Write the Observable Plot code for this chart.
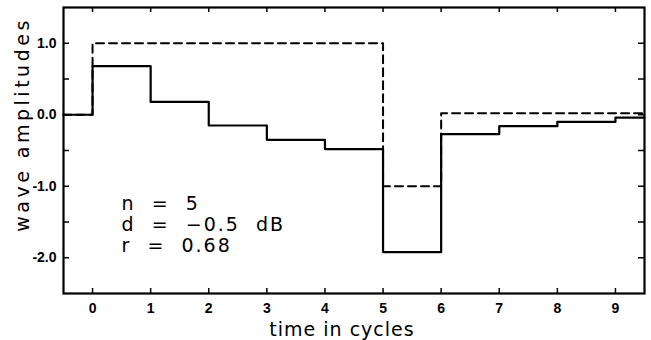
<!DOCTYPE html>
<html><head><meta charset="utf-8">
<script src="https://cdn.jsdelivr.net/npm/d3@7"></script>
<script src="https://cdn.jsdelivr.net/npm/@observablehq/plot@0.6"></script>
<style>body{margin:0;background:#fff} svg{display:block}</style>
</head><body><div id="chart"></div>
<script>
// ---- data ----
const times    = [-0.5, 0, 1, 2, 3, 4, 5, 6, 7, 8, 9, 9.5];
const response = [0, 0.68, 0.18, -0.15, -0.35, -0.48, -1.92, -0.27, -0.16, -0.10, -0.04, -0.04];
const input    = [0, 1, 1, 1, 1, 1, -1, 0.02, 0.02, 0.02, 0.02, 0.02];
const xTickValues = [0, 1, 2, 3, 4, 5, 6, 7, 8, 9];
const xTickLabels = ["0", "1", "2", "3", "4", "5", "6", "7", "8", "9"];
const yTickValues = [1, 0, -1, -2];
const yTickLabels = ["1.0", "0.0", "-1.0", "-2.0"];
const yMinorTicks = [1, 0.5, 0, -0.5, -1, -1.5, -2];
const xLabel = "time in cycles";
const yLabel = "wave amplitudes";
const annotation = ["n = 5", "d = −0.5 dB", "r = 0.68"];

// ---- layout ----
const W = 651, H = 340, mt = 7, mb = 47, ml = 63, mr = 7;
const iw = W - ml - mr, ih = H - mt - mb;

const solidRows = times.map((t, i) => ({t, v: response[i]}));
const dashRows = times.map((t, i) => ({t, v: input[i]}));
const annotText = annotation.map(s => s.replace(/ /g, "\u00a0\u00a0")).join("\n");
const tickFont = "'Liberation Sans Narrow', 'Liberation Sans', Arial, sans-serif";

const svg = Plot.plot({
  width: W, height: H,
  marginTop: mt, marginBottom: mb, marginLeft: ml, marginRight: mr,
  x: {domain: [-0.5, 9.5]},
  y: {domain: [-2.5, 1.5]},
  style: {fontFamily: "'DejaVu Sans', sans-serif", background: "#fff", color: "#000"},
  marks: [
    Plot.line(dashRows, {x: "t", y: "v", curve: "step-after", stroke: "#000", strokeWidth: 2, strokeDasharray: "8,5"}),
    Plot.line(solidRows, {x: "t", y: "v", curve: "step-after", stroke: "#000", strokeWidth: 2.2}),
    Plot.ruleX(xTickValues, {x: d => d, insetTop: ih - 5, stroke: "#000", strokeWidth: 1.5}),
    Plot.ruleX(xTickValues, {x: d => d, insetBottom: ih - 5, stroke: "#000", strokeWidth: 1.5}),
    Plot.ruleY(yMinorTicks, {y: d => d, insetRight: iw - 6, stroke: "#000", strokeWidth: 1.5}),
    Plot.ruleY(yMinorTicks, {y: d => d, insetLeft: iw - 6, stroke: "#000", strokeWidth: 1.5}),
    Plot.frame({stroke: "#000", strokeWidth: 2.2}),
    Plot.axisX(xTickValues, {tickSize: 0, tickPadding: 10, label: null,
      tickFormat: d => xTickLabels[xTickValues.indexOf(d)],
      fontWeight: "bold", fontSize: 14, fontFamily: tickFont}),
    Plot.axisY(yTickValues, {tickSize: 0, tickPadding: 7, label: null,
      tickFormat: d => yTickLabels[yTickValues.indexOf(d)],
      fontWeight: "bold", fontSize: 14, fontFamily: tickFont}),
    Plot.text([xLabel], {text: d => d, frameAnchor: "bottom", dx: -12, dy: 42, lineAnchor: "bottom",
      textAnchor: "middle", fontSize: 19}),
    Plot.text([yLabel], {text: d => d, frameAnchor: "left", dx: -41, dy: -26, rotate: -90,
      textAnchor: "middle", lineAnchor: "middle", fontSize: 19}),
    Plot.text([annotText], {text: d => d, x: 0.5, y: -1.92, textAnchor: "start", lineAnchor: "bottom",
      lineHeight: 1.1, fontSize: 19})
  ]
});
const allText = d3.select(svg).selectAll("text");
allText.filter(function() { return this.textContent === xLabel; }).style("letter-spacing", "1px");
allText.filter(function() { return this.textContent === yLabel; }).style("letter-spacing", "3.5px");
allText.filter(function() { return this.textContent.startsWith("n"); }).style("letter-spacing", "2px");
document.getElementById("chart").appendChild(svg);
</script>
</body></html>
